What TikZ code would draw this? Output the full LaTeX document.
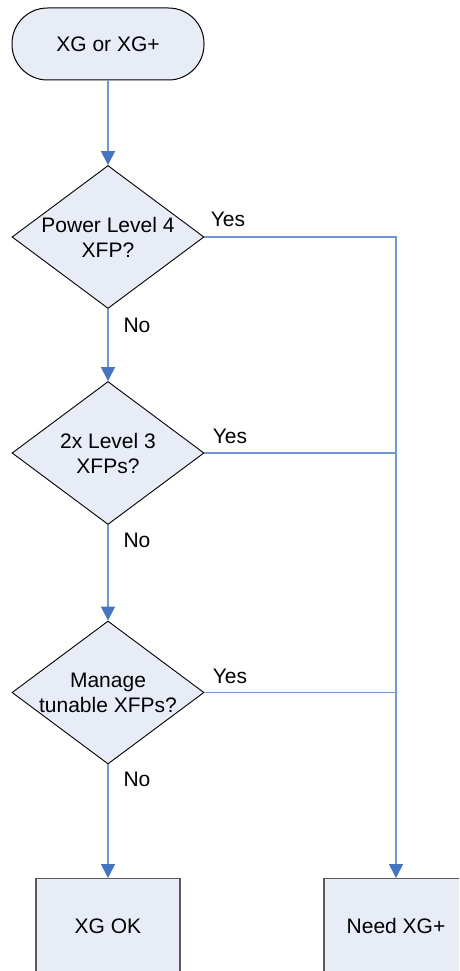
\documentclass[tikz,border=0pt]{standalone}
\usepackage{fontspec}
\setmainfont{Liberation Sans}
\usetikzlibrary{shapes.geometric,arrows.meta}
\definecolor{boxfill}{HTML}{E7ECF7}
\definecolor{flowline}{HTML}{7197D3}
\definecolor{flowtip}{HTML}{4674C1}
\definecolor{boxedge}{HTML}{5A5A5A}
\tikzset{
  every node/.style={font=\fontsize{21}{25}\selectfont},
  terminal/.style={draw=black, fill=boxfill, line width=1pt, rectangle,
    rounded corners=35.5pt, minimum width=192pt, minimum height=72pt, inner sep=0pt},
  decision/.style={draw=black, fill=boxfill, line width=0.9pt, diamond,
    minimum width=192pt, minimum height=143pt, inner sep=0pt},
  decisiontext/.style={align=center, inner sep=0pt},
  outcome/.style={draw=boxedge, fill=boxfill, line width=1.2pt, rectangle,
    minimum width=144pt, minimum height=100pt, inner sep=0pt, anchor=north},
  flow/.style={draw=flowline, line width=1.6pt},
  flowarrow/.style={flow, -{Triangle[length=14pt,width=14pt,color=flowtip]}},
  branch/.style={inner sep=0pt}
}
\begin{document}
\begin{tikzpicture}[x=1pt,y=-1pt]
  \useasboundingbox (0,0) rectangle (459,971);
  \clip (0,0) rectangle (459,971);

  % start terminal
  \node[terminal] (start) at (108,44) {XG or XG+};

  % decisions: the diamond outline and its question
  \node[decision] (q1) at (108,237) {};
  \node[decisiontext] (q1t) at (q1) {Power Level 4\\XFP?};
  \node[decision] (q2) at (108,453) {};
  \node[decisiontext] (q2t) at (q2) {2x Level 3\\XFPs?};
  \node[decision] (q3) at (108,692.5) {};
  \node[decisiontext] (q3t) at (q3) {Manage\\tunable XFPs?};

  % outcomes (run past the lower edge)
  \node[outcome] (ok) at (108,878) {};
  \node at (108,926) (oktext) {XG OK};
  \node[outcome] (need) at (396,878) {};
  \node at (396,926) (needtext) {Need XG+};

  % main "No" path
  \draw[flowarrow] (start.south) -- (q1.north);
  \draw[flowarrow] (q1.south) -- (q2.north);
  \draw[flowarrow] (q2.south) -- (q3.north);
  \draw[flowarrow] (q3.south) -- (ok.north);

  % "Yes" branches joining the right-hand trunk
  \coordinate (j2) at (q2.east -| need.north);
  \coordinate (j3) at (q3.east -| need.north);
  \draw[flowarrow] (q1.east) -| (need.north);
  \draw[flow] (q2.east) -- (j2);
  \draw[flow] (q3.east) -- (j3);

  % branch labels
  \node[branch] (y1) at (228,219) {Yes};
  \node[branch] (y2) at (230,436) {Yes};
  \node[branch] (y3) at (230,676) {Yes};
  \node[branch] (n1) at (137,325) {No};
  \node[branch] (n2) at (137,540) {No};
  \node[branch] (n3) at (137,779) {No};
\end{tikzpicture}
\end{document}
